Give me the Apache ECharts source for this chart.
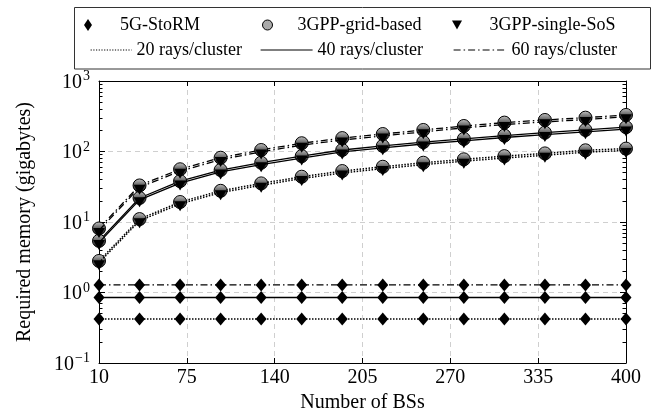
<!DOCTYPE html>
<html><head><meta charset="utf-8">
<script src="https://cdn.jsdelivr.net/npm/echarts@6/dist/echarts.min.js"></script>
<style>html,body{margin:0;padding:0;background:#fff}#c{width:659px;height:413px}</style>
</head><body><div id="c"></div>
<script>
// ---- data ----
const bsCounts = [10, 40, 70, 100, 130, 160, 190, 220, 250, 280, 310, 340, 370, 400];
const xTickLabels = [10, 75, 140, 205, 270, 335, 400];
const yTickLabels = [0.1, 1, 10, 100, 1000];
const yMinorTicks = [0.2,0.3,0.4,0.5,0.6,0.7,0.8,0.9, 2,3,4,5,6,7,8,9, 20,30,40,50,60,70,80,90, 200,300,400,500,600,700,800,900];

const storm20 = [0.42,0.42,0.42,0.42,0.42,0.42,0.42,0.42,0.42,0.42,0.42,0.42,0.42,0.42];
const storm40 = [0.85,0.85,0.85,0.85,0.85,0.85,0.85,0.85,0.85,0.85,0.85,0.85,0.85,0.85];
const storm60 = [1.28,1.28,1.28,1.28,1.28,1.28,1.28,1.28,1.28,1.28,1.28,1.28,1.28,1.28];

const grid20 = [2.8, 11.0, 19.2, 27.7, 35.3, 43.9, 52.8, 60.8, 69.3, 77.5, 86, 94, 104, 110];
const grid40 = [5.4, 21.9, 38, 54.6, 69.3, 86, 105, 120, 136, 151, 168, 185, 202, 221];
const grid60 = [8.1, 33, 56, 81.6, 105, 131, 155, 177, 202, 230, 257, 280, 302, 330];

const sos20 = [2.65, 10.4, 18.1, 26.1, 33.2, 41.3, 49.6, 57.2, 65.1, 72.9, 80.8, 88.4, 97.8, 103.4];
const sos40 = [5.1, 20.6, 35.7, 51.3, 65.1, 80.8, 98.7, 112.8, 127.8, 141.9, 157.9, 173.9, 189.9, 207.7];
const sos60 = [7.6, 31.0, 52.6, 76.7, 98.7, 123.1, 145.7, 166.4, 189.9, 216.2, 241.6, 263.2, 283.9, 310.2];

// ---- styles ----
const FONT = '"Liberation Serif", "Times New Roman", serif';
const DASH = {r20: [1.5, 1.5], r40: 'solid', r60: [7, 3, 1.5, 3]};
const LW = {r20: 1.5, r40: 1.3, r60: 1.3};
const DIAMOND = 'diamond';
const TRI = 'path://M-5,-4L5,-4L0,5Z';
const BALL = {type: 'linear', x: 0, y: 0, x2: 0, y2: 1,
  colorStops: [{offset: 0, color: '#c8c8c8'}, {offset: 0.45, color: '#666'}, {offset: 1, color: '#111'}]};

function pairs(vals) { return bsCounts.map((x, i) => [x, vals[i]]); }

function lineSeries(name, vals, key, kind) {
  const s = {
    name: name, type: 'line', data: pairs(vals),
    xAxisIndex: 0, yAxisIndex: 0,
    lineStyle: {color: '#000', width: LW[key], type: DASH[key]},
    animation: false, silent: true
  };
  if (kind === 'storm') {
    s.symbol = DIAMOND; s.symbolSize = [11, 13];
    s.itemStyle = {color: '#000'}; s.z = 2;
  } else if (kind === 'grid') {
    s.symbol = 'circle'; s.symbolSize = 13;
    s.itemStyle = {color: BALL, borderColor: '#000', borderWidth: 1}; s.z = 3;
  } else {
    s.symbol = TRI; s.symbolSize = [12, 10]; s.symbolOffset = [0, 2.5];
    s.itemStyle = {color: '#000'}; s.z = 4;
  }
  return s;
}

const series = [
  lineSeries('s20', storm20, 'r20', 'storm'),
  lineSeries('s40', storm40, 'r40', 'storm'),
  lineSeries('s60', storm60, 'r60', 'storm'),
  lineSeries('g20', grid20, 'r20', 'grid'),
  lineSeries('g40', grid40, 'r40', 'grid'),
  lineSeries('g60', grid60, 'r60', 'grid'),
  lineSeries('t20', sos20, 'r20', 'sos'),
  lineSeries('t40', sos40, 'r40', 'sos'),
  lineSeries('t60', sos60, 'r60', 'sos'),
  // legend-only entries
  {name: '5G-StoRM', type: 'line', data: [], symbol: DIAMOND, itemStyle: {color: '#000'}, lineStyle: {color: '#000'}},
  {name: '3GPP-grid-based', type: 'line', data: [], symbol: 'circle', itemStyle: {color: '#aaa', borderColor: '#000', borderWidth: 1}, lineStyle: {color: '#000'}},
  {name: '3GPP-single-SoS', type: 'line', data: [], symbol: TRI, itemStyle: {color: '#000'}, lineStyle: {color: '#000'}},
  {name: '20 rays/cluster', type: 'line', data: [], symbol: 'none', itemStyle: {color: '#000'}, lineStyle: {color: '#000', width: 1.2, type: [1.2, 1.5]}},
  {name: '40 rays/cluster', type: 'line', data: [], symbol: 'none', itemStyle: {color: '#000'}, lineStyle: {color: '#000', width: 1.2, type: 'solid'}},
  {name: '60 rays/cluster', type: 'line', data: [], symbol: 'none', itemStyle: {color: '#000'}, lineStyle: {color: '#000', width: 1.2, type: DASH.r60}}
];

function leg(name, left, top, w, h, extra) {
  return Object.assign({
    data: [name], left: left, top: top, itemWidth: w, itemHeight: h, padding: 0,
    selectedMode: false, orient: 'horizontal',
    textStyle: {fontFamily: FONT, fontSize: 18, color: '#000'}
  }, extra || {});
}
const HIDE_SYM = {color: '#000', opacity: 0, borderWidth: 0};

const legends = [
  leg('5G-StoRM', 84, 16, 54, 12, {data: [{name: '5G-StoRM', icon: 'path://M0,-6L4,0L0,6L-4,0Z'}], itemStyle: {color: '#000', borderWidth: 0}}),
  leg('3GPP-grid-based', 262, 16, 50, 10, {data: [{name: '3GPP-grid-based', icon: 'circle'}], itemStyle: {color: '#aaa', borderColor: '#000', borderWidth: 1}}),
  leg('3GPP-single-SoS', 452, 16, 55, 9, {data: [{name: '3GPP-single-SoS', icon: 'path://M-5,-4L5,-4L0,5Z'}], itemStyle: {color: '#000', borderWidth: 0}}),
  leg('20 rays/cluster', 90, 41, 41, 10, {itemStyle: HIDE_SYM, lineStyle: {color: '#000', width: 1.2, type: [1.2, 1.5]}}),
  leg('40 rays/cluster', 260, 41, 52, 10, {itemStyle: HIDE_SYM, lineStyle: {color: '#000', width: 1.2, type: 'solid'}}),
  leg('60 rays/cluster', 453, 41, 53, 10, {itemStyle: HIDE_SYM, lineStyle: {color: '#000', width: 1.2, type: DASH.r60}})
];

const GRIDRECT = {left: 99, right: 33, top: 81, bottom: 50, containLabel: false, outerBoundsMode: 'none'};
const AXLINE = {show: true, lineStyle: {color: '#000', width: 1}};
const SPLIT = {show: true, lineStyle: {color: '#cfcfcf', width: 1, type: [5, 4]}};

function expLabel(v) {
  const e = Math.round(Math.log10(v));
  const es = e < 0 ? '\u2212' + (-e) : String(e);
  return '{b|10}{e|' + es + '}';
}

const option = {
  animation: false,
  backgroundColor: '#fff',
  graphic: [{
    type: 'rect', shape: {x: 74.5, y: 7.5, width: 576, height: 61.5},
    style: {fill: '#fff', stroke: '#333', lineWidth: 1}, z: -10, silent: true
  }],
  legend: legends,
  grid: [Object.assign({}, GRIDRECT), Object.assign({}, GRIDRECT)],
  xAxis: [
    {type: 'value', gridIndex: 0, position: 'bottom', min: 10, max: 400, interval: 65,
     axisLine: AXLINE, axisTick: {show: true, inside: true, length: 5, lineStyle: {color: '#000'}},
     axisLabel: {show: true, margin: 5, fontFamily: FONT, fontSize: 20, color: '#000',
       customValues: xTickLabels},
     splitLine: SPLIT,
     name: 'Number of BSs', nameLocation: 'middle', nameGap: 22,
     nameTextStyle: {fontFamily: FONT, fontSize: 20, color: '#000'}},
    {type: 'value', gridIndex: 0, position: 'top', min: 10, max: 400, interval: 65,
     axisLine: AXLINE, axisTick: {show: true, inside: true, length: 5, lineStyle: {color: '#000'}},
     axisLabel: {show: false}, splitLine: {show: false}},
    {type: 'value', gridIndex: 1, min: 10, max: 400, show: false}
  ],
  yAxis: [
    {type: 'log', logBase: 10, gridIndex: 0, position: 'left', min: 0.1, max: 1000,
     axisLine: AXLINE, axisTick: {show: true, inside: true, length: 6, lineStyle: {color: '#000'}},
     axisLabel: {show: true, margin: 9, formatter: expLabel, customValues: yTickLabels,
       rich: {
         b: {fontFamily: FONT, fontSize: 20, color: '#000', verticalAlign: 'bottom'},
         e: {fontFamily: FONT, fontSize: 14, color: '#000', verticalAlign: 'bottom', padding: [0, 0, 9, 1]}
       }},
     splitLine: SPLIT,
     name: 'Required memory (gigabytes)', nameLocation: 'middle', nameGap: 64, nameRotate: 90,
     nameTextStyle: {fontFamily: FONT, fontSize: 20, color: '#000'}},
    {type: 'log', logBase: 10, gridIndex: 0, position: 'right', min: 0.1, max: 1000,
     axisLine: AXLINE, axisTick: {show: true, inside: true, length: 6, lineStyle: {color: '#000'}},
     axisLabel: {show: false}, splitLine: {show: false}},
    {type: 'log', logBase: 10, gridIndex: 1, position: 'left', min: 0.1, max: 1000,
     axisLine: {show: false},
     axisTick: {show: true, inside: true, length: 3.5, lineStyle: {color: '#000'}, customValues: yMinorTicks},
     axisLabel: {show: false}, splitLine: {show: false}},
    {type: 'log', logBase: 10, gridIndex: 1, position: 'right', min: 0.1, max: 1000,
     axisLine: {show: false},
     axisTick: {show: true, inside: true, length: 3.5, lineStyle: {color: '#000'}, customValues: yMinorTicks},
     axisLabel: {show: false}, splitLine: {show: false}}
  ],
  series: series
};

const chart = echarts.init(document.getElementById('c'), null, {renderer: 'canvas'});
chart.setOption(option);
</script>
</body></html>
